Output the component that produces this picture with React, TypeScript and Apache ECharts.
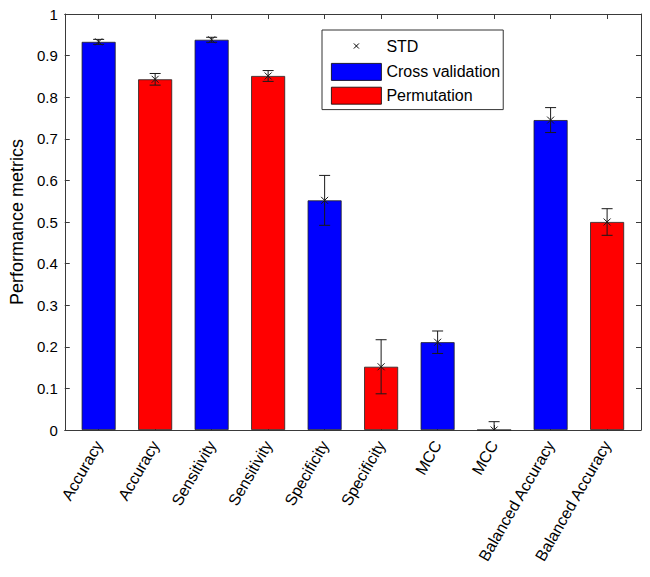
import React, { useEffect, useRef } from "react";
import * as echarts from "echarts";

const categories = [
  "Accuracy", "Accuracy", "Sensitivity", "Sensitivity", "Specificity",
  "Specificity", "MCC", "MCC", "Balanced Accuracy", "Balanced Accuracy",
];
const cvValues = [0.933, null, 0.938, null, 0.552, null, 0.211, null, 0.745, null];
const permValues = [null, 0.843, null, 0.851, null, 0.152, null, 0.0, null, 0.5];
const stdValues = [0.006, 0.014, 0.006, 0.013, 0.06, 0.065, 0.027, 0.02, 0.03, 0.032];
const yTicks = [0, 0.1, 0.2, 0.3, 0.4, 0.5, 0.6, 0.7, 0.8, 0.9, 1];

const FONT = "Liberation Sans, Arial, sans-serif";
const AXIS_COLOR = "#3a3a3a";

export default function App() {
  const ref = useRef<HTMLDivElement>(null);
  useEffect(() => {
    if (!ref.current) return;
    const chart = echarts.init(ref.current, null, { renderer: "svg" });
    const positions = categories.map((_, i) => i + 1);
    const cvData = positions.map((x, i) => [x, cvValues[i] == null ? "-" : cvValues[i]]);
    const permData = positions.map((x, i) => [x, permValues[i] == null ? "-" : permValues[i]]);
    const errData = positions.map((x, i) => [
      x,
      (cvValues[i] ?? permValues[i]) as number,
      stdValues[i],
    ]);

    const xAxisBase = {
      type: "value",
      min: 0.4,
      max: 10.6,
      splitLine: { show: false },
      axisLine: { show: true, onZero: false, lineStyle: { color: AXIS_COLOR, width: 1 } },
      axisTick: {
        show: true,
        inside: true,
        length: 5,
        customValues: positions,
        lineStyle: { color: AXIS_COLOR },
      },
    };

    chart.setOption({
      animation: false,
      backgroundColor: "#fff",
      textStyle: { fontFamily: FONT },
      grid: { left: 62, right: 9, top: 14, bottom: 147, containLabel: false },
      legend: {
        orient: "vertical",
        left: 322,
        top: 30,
        padding: [5, 3, 5, 9],
        itemWidth: 50,
        itemHeight: 17,
        itemGap: 6,
        borderColor: "#333",
        borderWidth: 1,
        backgroundColor: "#fff",
        textStyle: { fontSize: 16, color: "#000", fontFamily: FONT },
        data: [
          {
            name: "STD",
            icon: "path://M0 0 M20 20 M7 7 L13 13 M13 7 L7 13",
            itemStyle: { color: "none", borderColor: "#000", borderWidth: 1 },
          },
          {
            name: "Cross validation",
            icon: "rect",
            itemStyle: { color: "#0000ff", borderColor: "#000", borderWidth: 0.8 },
          },
          {
            name: "Permutation",
            icon: "rect",
            itemStyle: { color: "#ff0000", borderColor: "#000", borderWidth: 0.8 },
          },
        ],
      },
      xAxis: [
        {
          ...xAxisBase,
          position: "bottom",
          axisLabel: {
            show: true,
            customValues: positions,
            rotate: 60,
            fontSize: 16,
            color: "#000",
            margin: 12,
            fontFamily: FONT,
            formatter: (v: number) => categories[Math.round(v) - 1] ?? "",
          },
        },
        {
          ...xAxisBase,
          position: "top",
          axisLabel: { show: false },
        },
      ],
      yAxis: [
        {
          type: "value",
          min: 0,
          max: 1,
          interval: 0.1,
          position: "left",
          name: "Performance metrics",
          nameLocation: "middle",
          nameGap: 36,
          nameRotate: 90,
          nameTextStyle: { fontSize: 18, color: "#000", fontFamily: FONT },
          splitLine: { show: false },
          axisLine: { show: true, lineStyle: { color: AXIS_COLOR } },
          axisTick: { show: true, inside: true, length: 5, lineStyle: { color: AXIS_COLOR } },
          axisLabel: {
            fontSize: 15,
            color: "#000",
            margin: 7,
            fontFamily: FONT,
            formatter: (v: number) => {
              const t = yTicks.find((k) => Math.abs(k - v) < 1e-6);
              return t === undefined ? "" : String(Math.round(t * 10) / 10);
            },
          },
        },
        {
          type: "value",
          min: 0,
          max: 1,
          interval: 0.1,
          position: "right",
          splitLine: { show: false },
          axisLine: { show: true, lineStyle: { color: AXIS_COLOR } },
          axisTick: { show: true, inside: true, length: 5, lineStyle: { color: AXIS_COLOR } },
          axisLabel: { show: false },
        },
      ],
      series: [
        {
          name: "Cross validation",
          type: "bar",
          stack: "bars",
          barWidth: 34,
          data: cvData,
          itemStyle: { color: "#0000ff", borderColor: "#222", borderWidth: 0.8 },
        },
        {
          name: "Permutation",
          type: "bar",
          stack: "bars",
          barWidth: 34,
          data: permData,
          itemStyle: { color: "#ff0000", borderColor: "#222", borderWidth: 0.8 },
        },
        {
          name: "STD",
          type: "custom",
          clip: true,
          data: errData,
          z: 10,
          renderItem: (params: any, api: any) => {
            const x = api.value(0);
            const y = api.value(1);
            const e = api.value(2);
            const pTop = api.coord([x, y + e]);
            const pBot = api.coord([x, y - e]);
            const pMid = api.coord([x, y]);
            const cap = 5.5;
            const m = 3.5;
            const style = { stroke: "#1a1a1a", lineWidth: 1, fill: "none" };
            return {
              type: "group",
              children: [
                { type: "line", shape: { x1: pTop[0], y1: pTop[1], x2: pBot[0], y2: pBot[1] }, style },
                { type: "line", shape: { x1: pTop[0] - cap, y1: pTop[1], x2: pTop[0] + cap, y2: pTop[1] }, style },
                { type: "line", shape: { x1: pBot[0] - cap, y1: pBot[1], x2: pBot[0] + cap, y2: pBot[1] }, style },
                { type: "line", shape: { x1: pMid[0] - m, y1: pMid[1] - m, x2: pMid[0] + m, y2: pMid[1] + m }, style },
                { type: "line", shape: { x1: pMid[0] - m, y1: pMid[1] + m, x2: pMid[0] + m, y2: pMid[1] - m }, style },
              ],
            };
          },
        },
      ],
    });
    return () => chart.dispose();
  }, []);
  return (
    <div
      ref={ref}
      style={{ position: "absolute", left: 0, top: 0, width: 650, height: 577 }}
    />
  );
}
